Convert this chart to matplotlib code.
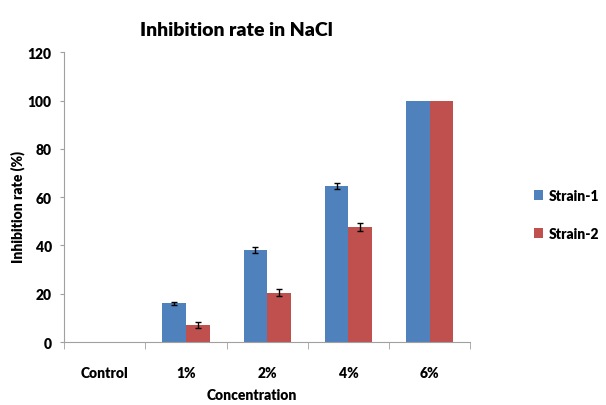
import matplotlib.pyplot as plt
import numpy as np

# data
categories = ['Control', '1%', '2%', '4%', '6%']
strain1 = [0, 16, 38, 64.5, 100]
strain2 = [0, 7, 20.5, 47.5, 100]
err1 = [0, 0.5, 1.3, 1.2, 0]
err2 = [0, 1.2, 1.5, 1.6, 0]

plt.rcParams['font.family'] = ['Lato', 'DejaVu Sans']
plt.rcParams['font.weight'] = 'heavy'

fig = plt.figure(figsize=(6.06, 4.06), dpi=100)
ax = fig.add_axes([0.106, 0.155, 0.67, 0.714])

x = np.arange(len(categories))
w = 0.29
ax.bar(x - w/2, strain1, w, color='#4F81BD', label='Strain-1', zorder=2)
ax.bar(x + w/2, strain2, w, color='#C0504D', label='Strain-2', zorder=2)
# error bars only where there is an error
for xs, vals, errs in [(x - w/2, strain1, err1), (x + w/2, strain2, err2)]:
    for xi, v, e in zip(xs, vals, errs):
        if e > 0:
            ax.errorbar(xi, v, yerr=e, fmt='none', ecolor='black', elinewidth=1,
                        capsize=2.5, capthick=1, zorder=3)

ax.set_xlim(-0.5, len(categories) - 0.5)
ax.set_ylim(0, 120)
ax.set_yticks(range(0, 121, 20))
ax.tick_params(axis='y', labelsize=10, length=3, color='#a0a0a0', pad=6)

ax.set_xticks(x)
ax.set_xticklabels(categories)
ax.set_xticks(np.arange(-0.5, len(categories), 1), minor=True)
ax.tick_params(axis='x', which='major', length=0, labelsize=10, pad=17)
ax.tick_params(axis='x', which='minor', length=5, color='#a0a0a0')

for s in ['top', 'right']:
    ax.spines[s].set_visible(False)
ax.spines['left'].set_color('#a0a0a0')
ax.spines['bottom'].set_color('#a0a0a0')

fig.text(0.39, 0.925, 'Inhibition rate in NaCl', ha='center', va='center', fontsize=14, fontweight='heavy')
fig.text(0.03, 0.49, 'Inhibition rate (%)', ha='center', va='center', rotation=90, fontsize=10, fontweight='heavy')
fig.text(0.415, 0.025, 'Concentration', ha='center', va='center', fontsize=10, fontweight='heavy')

ax.legend(loc='center left', bbox_to_anchor=(1.125, 0.44), frameon=False, fontsize=10,
          handlelength=0.7, handleheight=0.7, handletextpad=0.4, labelspacing=1.8)

fig.savefig('out.png', dpi=100)
